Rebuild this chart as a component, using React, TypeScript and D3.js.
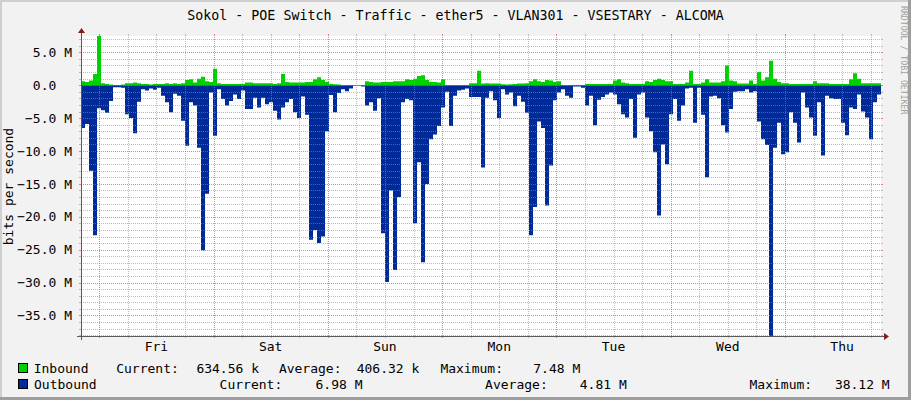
import React from 'react';
import * as d3 from 'd3';

// ---------- data ----------
const TITLE = 'Sokol - POE Switch - Traffic - ether5 - VLAN301 - VSESTARY - ALCOMA';
const Y_LABEL = 'bits per second';
const WATERMARK = 'RRDTOOL / TOBI OETIKER';

const startTime = new Date(2024, 0, 4, 20, 10); // Thursday evening
const spanDays = 7;

// Mbit/s, one value per equal time slot across the week
const inboundMbps = [
  0.6, 0.5, 0.7, 1.7, 7.48, 0.3, 0.2, 0.1, 0.05, 0.05,
  0.1, 0.3, 0.3, 0.4, 0.3, 0.2, 0.2, 0.1, 0.2, 0.2,
  0.2, 0.3, 0.2, 0.3, 0.2, 0.3, 0.8, 0.9, 0.4, 1.0,
  1.3, 0.6, 0.5, 2.5, 0.3, 0.2, 0.2, 0.2, 0.2, 0.2,
  0.2, 0.4, 0.4, 0.3, 0.3, 0.3, 0.3, 0.3, 0.2, 0.3,
  1.7, 0.5, 0.4, 0.4, 0.4, 0.4, 0.5, 0.5, 0.9, 1.2,
  0.8, 0.5, 0.2, 0.15, 0.1, 0.05, 0.05, 0.05, 0.05, 0.05,
  0.05, 0.6, 0.5, 0.4, 0.4, 0.5, 0.5, 0.5, 0.6, 0.6,
  0.6, 0.9, 0.8, 1.0, 1.4, 1.5, 0.8, 0.5, 0.5, 0.4,
  0.9, 0.05, 0.05, 0.05, 0.05, 0.05, 0.05, 0.3, 0.3, 2.2,
  0.25, 0.3, 0.25, 0.25, 0.25, 0.15, 0.1, 0.15, 0.2, 0.25,
  0.25, 0.3, 0.6, 0.9, 0.6, 0.5, 0.8, 0.7, 0.5, 0.6,
  0.05, 0.05, 0.05, 0.05, 0.05, 0.05, 0.2, 0.2, 0.2, 0.2,
  0.2, 0.2, 0.2, 0.7, 0.9, 0.4, 0.3, 0.2, 0.2, 0.2,
  0.2, 0.6, 0.5, 0.8, 1.0, 0.8, 0.6, 0.6, 0.2, 0.2,
  0.2, 0.4, 2.2, 0.2, 0.2, 0.4, 0.9, 0.4, 0.4, 0.4,
  0.6, 3.0, 0.7, 0.6, 0.25, 0.25, 0.25, 0.7, 0.2, 2.0,
  0.7, 1.2, 3.7, 1.0, 0.5, 0.3, 0.3, 0.2, 0.2, 0.2,
  0.2, 0.2, 0.2, 0.6, 0.3, 0.3, 0.3, 0.2, 0.2, 0.2,
  0.2, 0.2, 0.9, 1.8, 1.0, 0.3, 0.3, 0.3, 0.3, 0.3,
];

const outboundMbps = [
  6.5, 5.9, 13, 22.8, 3.5, 3.8, 4.2, 2.4, 0.3, 0.3,
  0.4, 4.4, 5.0, 7.3, 2.5, 0.6, 0.8, 0.5, 0.7, 0.4,
  1.6, 2.6, 4.1, 1.3, 1.6, 5.4, 9.2, 2.6, 3.1, 9.5,
  25.1, 16.5, 1.1, 7.7, 0.6, 2.1, 3.1, 2.4, 1.4, 2.1,
  0.8, 3.6, 3.6, 1.9, 3.4, 1.9, 2.9, 2.6, 3.9, 5.2,
  3.4, 2.6, 2.1, 4.1, 5.0, 1.7, 4.5, 23.5, 22, 24,
  23, 7.0, 1.5, 4.1, 1.2, 0.6, 0.9, 0.5, 0.1, 0.1,
  0.2, 3.1, 2.6, 3.9, 2.0, 22.5, 29.9, 16, 28.1, 17,
  2.6, 2.1, 2.3, 21, 11.7, 26.9, 15, 8.2, 7.5, 6.2,
  3.4, 1.0, 6.2, 1.6, 0.8, 0.7, 0.5, 1.8, 1.8, 1.8,
  12.5, 1.9, 0.9, 2.3, 5.0, 0.6, 1.4, 1.1, 3.2, 1.6,
  2.5, 4.2, 22.8, 18.5, 5.5, 6.5, 18.3, 12.2, 2.3, 1.1,
  0.6, 1.6, 1.9, 0.2, 0.2, 0.4, 3.1, 1.6, 6.1, 2.2,
  1.8, 1.4, 1.1, 1.4, 2.9, 4.4, 4.9, 2.1, 8.0, 1.4,
  1.1, 4.9, 7.0, 10.2, 19.8, 9, 12, 4.4, 2.1, 5.4,
  3.1, 0.5, 0.4, 5.7, 0.4, 4.5, 14.0, 1.7, 1.6, 2.0,
  6.1, 7.2, 3.6, 1.0, 0.9, 0.9, 0.6, 1.1, 0.9, 5.5,
  8.2, 9.1, 38.12, 9.5, 5.7, 10.5, 10.2, 4.1, 5.7, 8.7,
  1.1, 3.4, 4.9, 7.7, 2.6, 10.7, 1.6, 2.0, 2.1, 2.1,
  5.7, 7.6, 3.4, 3.6, 1.4, 4.0, 4.9, 8.2, 2.6, 1.4,
];

const legendInbound = ['Inbound', 'Current:', '634.56 k', 'Average:', '406.32 k', 'Maximum:', '7.48 M'];
const legendOutbound = ['Outbound', 'Current:', '6.98 M', 'Average:', '4.81 M', 'Maximum:', '38.12 M'];

// ---------- style ----------
const FONT = 'DejaVu Sans Mono';
const C_BACK = '#F2F2F2';
const C_SHADEA = '#CFCFCF';
const C_SHADEB = '#9E9E9E';
const C_GRID = 'rgba(143,143,143,0.6)';
const C_MGRID = 'rgba(222,79,79,0.7)';
const C_AXIS = '#5A5A5A';
const C_ARROW = '#801F1F';
const C_IN = '#00CF00';
const C_OUT = '#002A97';

export default function App() {
  const W = 911, H = 400;
  const X0 = 81, X1 = 881, Y0 = 336, Y1 = 36;

  const endTime = d3.timeDay.offset(startTime, spanDays);
  const n = outboundMbps.length;
  const stepMs = (endTime.getTime() - startTime.getTime()) / n;

  const x = d3.scaleTime().domain([startTime, endTime]).range([X0, X1]);
  const yMax = (d3.max(inboundMbps) as number) * 1e6;
  const yMin = -(d3.max(outboundMbps) as number) * 1e6;
  const y = d3.scaleLinear().domain([yMin, yMax]).range([Y0, Y1]);

  type P = { t: Date; v: number };
  const toPts = (arr: number[], sign: number): P[] =>
    d3.range(arr.length + 1).map((i) => ({
      t: new Date(startTime.getTime() + i * stepMs),
      v: sign * arr[Math.min(i, arr.length - 1)] * 1e6,
    }));
  const area = d3
    .area<P>()
    .x((d) => x(d.t))
    .y0(y(0))
    .y1((d) => y(d.v))
    .curve(d3.curveStepAfter);

  const inPath = area(toPts(inboundMbps, 1)) || '';
  const outPath = area(toPts(outboundMbps, -1)) || '';

  // grids
  const yGrid = d3
    .range(Math.ceil(yMin / 1e6), Math.floor(yMax / 1e6) + 1)
    .map((m) => ({ v: m * 1e6, major: m % 5 === 0 }));
  const days = d3.timeDay.range(startTime, endTime);
  const sixHours = (d3.timeHour.every(6) as d3.TimeInterval)
    .range(startTime, endTime)
    .filter((d) => d.getHours() !== 0);
  const noonLabels = days
    .map((d) => d3.timeHour.offset(d, 12))
    .filter((d) => d < endTime);
  const fmtDay = d3.timeFormat('%a');
  const fmtY = (v: number) => (v === 0 ? '0.0  ' : `${d3.format('.1f')(v / 1e6)} M`);

  const px = (v: number) => Math.round(v) + 0.5;

  const legendXIn = [33.7, 116.2, 196.4, 278.9, 356.7, 440.4, 533.3];
  const legendXOut = [34, 219.6, 315.5, 485.1, 579.8, 749.5, 834.9];

  return (
    <svg
      width={W}
      height={H}
      viewBox={`0 0 ${W} ${H}`}
      style={{ position: 'absolute', left: 0, top: 0, display: 'block' }}
      fontFamily={FONT}
    >
      {/* background + shades */}
      <rect x={0} y={0} width={W} height={H} fill={C_BACK} />
      <rect x={0} y={0} width={W} height={2} fill={C_SHADEA} />
      <rect x={0} y={0} width={2} height={H} fill={C_SHADEA} />
      <rect x={0} y={H - 3} width={W} height={3} fill={C_SHADEB} />
      <rect x={W - 3} y={0} width={3} height={H} fill={C_SHADEB} />

      {/* canvas */}
      <rect x={X0} y={Y1} width={X1 - X0} height={Y0 - Y1} fill="#FFFFFF" />

      {/* data */}
      <path d={inPath} fill={C_IN} />
      <path d={outPath} fill={C_OUT} />

      {/* grid */}
      <g shapeRendering="crispEdges">
        {yGrid.map((g, i) => {
          const yy = px(y(g.v));
          const c = g.major ? C_MGRID : C_GRID;
          return (
            <g key={'h' + i}>
              <line x1={X0 - 2} x2={X0} y1={yy} y2={yy} stroke={c} />
              <line x1={X1} x2={X1 + 2} y1={yy} y2={yy} stroke={c} />
              <line x1={X0} x2={X1} y1={yy} y2={yy} stroke={c} strokeDasharray="1,1" />
            </g>
          );
        })}
        {sixHours.map((d, i) => {
          const xx = px(x(d));
          return (
            <g key={'v' + i}>
              <line x1={xx} x2={xx} y1={Y0} y2={Y0 + 2} stroke={C_GRID} />
              <line x1={xx} x2={xx} y1={Y1 - 2} y2={Y1} stroke={C_GRID} />
              <line x1={xx} x2={xx} y1={Y0} y2={Y1} stroke={C_GRID} strokeDasharray="1,1" />
            </g>
          );
        })}
        {days.map((d, i) => {
          const xx = px(x(d));
          return (
            <g key={'d' + i}>
              <line x1={xx} x2={xx} y1={Y0} y2={Y0 + 2} stroke={C_MGRID} />
              <line x1={xx} x2={xx} y1={Y1 - 2} y2={Y1} stroke={C_MGRID} />
              <line x1={xx} x2={xx} y1={Y0} y2={Y1} stroke={C_MGRID} strokeDasharray="1,1" />
            </g>
          );
        })}

        {/* axes */}
        <line x1={X0 - 4} x2={X1 + 4} y1={Y0 + 0.5} y2={Y0 + 0.5} stroke={C_AXIS} />
        <line x1={X0 + 0.5} x2={X0 + 0.5} y1={Y0 + 4} y2={Y1 - 4} stroke={C_AXIS} />
      </g>
      {/* arrows */}
      <path d={`M${X1 + 3},${Y0 - 3} L${X1 + 3},${Y0 + 4} L${X1 + 8},${Y0 + 0.5} Z`} fill={C_ARROW} />
      <path d={`M${X0 - 3},${Y1 - 3} L${X0 + 4},${Y1 - 3} L${X0 + 0.5},${Y1 - 8} Z`} fill={C_ARROW} />

      {/* y tick labels */}
      {yGrid
        .filter((g) => g.major)
        .map((g, i) => (
          <text
            key={'yl' + i}
            x={72}
            y={y(g.v)}
            dy="0.36em"
            textAnchor="end"
            fontSize={13}
            fill="#000"
            style={{ whiteSpace: 'pre' }}
          >
            {fmtY(g.v)}
          </text>
        ))}

      {/* x labels */}
      {noonLabels.map((d, i) => (
        <text key={'xl' + i} x={x(d)} y={Y0 + 15} textAnchor="middle" fontSize={13} fill="#000">
          {fmtDay(d)}
        </text>
      ))}

      {/* title */}
      <text x={W / 2} y={19.5} textAnchor="middle" fontSize={13.3} fill="#000">
        {TITLE}
      </text>

      {/* y axis title */}
      <text
        transform={`translate(12.5, ${(Y0 + Y1) / 2 + 0.5}) rotate(-90)`}
        textAnchor="middle"
        fontSize={13}
        fill="#000"
      >
        {Y_LABEL}
      </text>

      {/* watermark */}
      <text transform={`translate(900.5, 6) rotate(90)`} fontSize={8.2} fill="#A0A0A0">
        {WATERMARK}
      </text>

      {/* legend */}
      <rect x={18.5} y={363.5} width={9} height={9} fill={C_IN} stroke="#000" strokeWidth={1} />
      <rect x={18.5} y={379.5} width={9} height={9} fill={C_OUT} stroke="#000" strokeWidth={1} />
      {legendInbound.map((s, i) => (
        <text key={'li' + i} x={legendXIn[i]} y={373} fontSize={13} fill="#000">
          {s}
        </text>
      ))}
      {legendOutbound.map((s, i) => (
        <text key={'lo' + i} x={legendXOut[i]} y={388.5} fontSize={13} fill="#000">
          {s}
        </text>
      ))}
    </svg>
  );
}
